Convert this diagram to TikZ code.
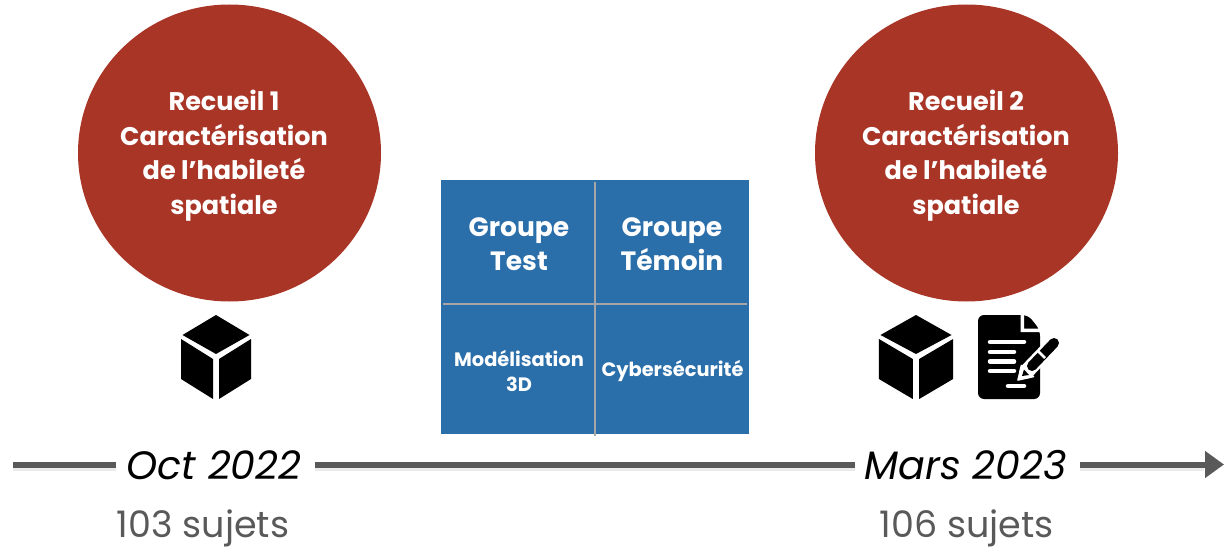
\documentclass[tikz,border=0pt]{standalone}
\usepackage{fontspec}
\setmainfont{Poppins}
\usetikzlibrary{arrows.meta,shapes.geometric}
\definecolor{rouge}{HTML}{A93526}
\definecolor{bleu}{HTML}{2A6EAA}
\definecolor{trait}{HTML}{595959}
\definecolor{grille}{HTML}{A6A6A6}
\definecolor{sujet}{HTML}{595959}
\tikzset{
  x=1pt,y=-1pt,
  rond/.style={ellipse,fill=rouge,minimum width=303pt,minimum height=297pt,inner sep=0pt},
  rondtexte/.style={text=white,font=\fontsize{25.5}{34.5}\selectfont\bfseries,align=center,inner sep=0pt},
  grostexte/.style={text=white,font=\fontsize{26.5}{33.5}\selectfont\bfseries,align=center,inner sep=0pt},
  petittexte/.style={text=white,font=\fontsize{19.4}{25}\selectfont\bfseries,align=center,inner sep=0pt},
  datetexte/.style={font=\fontsize{39.6}{44}\selectfont\itshape,text=black,inner sep=0pt,minimum height=30pt},
  sujettexte/.style={font=\fontsize{36.5}{42}\selectfont,text=sujet,inner sep=0pt},
  axe/.style={draw=trait,line width=6pt},
  ombre/.style={draw=black!8,line width=6pt},
  grilletrait/.style={draw=grille,line width=2pt},
  blanc/.style={draw=white,line width=4.5pt,line cap=round},
}
\newcommand{\cube}[3]{%
  \begin{scope}[shift={(#1,#2)},xscale=#3]
    \fill[black] (0,-42.5) -- (33.5,-22.5) -- (0,-3.5) -- (-33.5,-22.5) -- cycle;
    \fill[black] (-35,-18.5) -- (-3,1.5) -- (-3,41.5) -- (-35,21.5) -- cycle;
    \fill[black] (35,-18.5) -- (3,1.5) -- (3,41.5) -- (35,21.5) -- cycle;
  \end{scope}}
\begin{document}
\begin{tikzpicture}
\useasboundingbox (0,0) rectangle (1224,548);
% circles
\node[rond] (c1) at (229.5,153) {};
\node[rond] (c2) at (966.5,153) {};
\node[rondtexte] (t1) at (224,155.5) {Recueil 1\\Caractérisation\\de l’habileté\\spatiale};
\node[rondtexte] (t2) at (966,155.5) {Recueil 2\\Caractérisation\\de l’habileté\\spatiale};
% table
\fill[bleu] (441,180) rectangle (749,434);
\draw[grilletrait] (595,182) -- (595,436);
\draw[grilletrait] (443,304) -- (747,304);
\node[grostexte] (g1) at (519,244) {Groupe\\Test};
\node[grostexte] (g2) at (672,244) {Groupe\\Témoin};
\node[petittexte] (m1) at (519,371) {Modélisation\\3D};
\node[petittexte] (m2) at (672.5,371) {Cybersécurité};
% icons
\cube{216}{357.5}{1}
\cube{916}{357.5}{1.06}
\fill[black,rounded corners=6pt] (978,315) -- (1028,315) -- (1040,330) -- (1040,399) -- (978,399) -- cycle;
\fill[white] (1020.5,313) -- (1024,313) -- (1024,328.5) -- (1041,328.5) -- (1041,332) -- (1020.5,332) -- cycle;
\draw[blanc] (990,342) -- (1024,342);
\draw[blanc] (990,352) -- (1014,352);
\draw[blanc] (990,361.5) -- (1014,361.5);
\draw[blanc] (990,371) -- (1014,371);
\draw[blanc] (1008,386) -- (1024,386);
\draw[white,line width=15pt,line cap=round] (1027,371) -- (1052,345);
\draw[black,line width=10pt,line cap=round] (1032,366) -- (1054,343);
\draw[white,line width=2.5pt] (1038,351) -- (1045,358);
\fill[white,rounded corners=1pt] (1017,381) -- (1021,364) -- (1035,377) -- cycle;
\fill[black] (1022,376) -- (1024,369.5) -- (1029,375) -- cycle;
% axis
\coordinate (debut) at (13,464.5);
\coordinate (fin) at (1224,464.5);
\node[datetexte,minimum width=199pt] (d1) at (215.5,464.5) {};
\node[datetexte,minimum width=225pt] (d2) at (967.5,464.5) {};
\node[datetexte] (l1) at (214,465) {Oct 2022};
\node[datetexte] (l2) at (965.5,465) {Mars 2023};
\draw[ombre] ([yshift=-3pt]debut) -- ([yshift=-3pt]d1.west);
\draw[ombre] ([yshift=-3pt]d1.east) -- ([yshift=-3pt]d2.west);
\draw[ombre] ([yshift=-3pt]d2.east) -- ([xshift=-20pt,yshift=-3pt]fin);
\draw[axe] (debut) -- (d1.west);
\draw[axe] (d1.east) -- (d2.west);
\draw[axe,-{Triangle[length=19pt,width=26pt]}] (d2.east) -- (fin);
% counts
\node[sujettexte] (s1) at (203,528) {103 sujets};
\node[sujettexte] (s2) at (966.5,528) {106 sujets};
\end{tikzpicture}
\end{document}
